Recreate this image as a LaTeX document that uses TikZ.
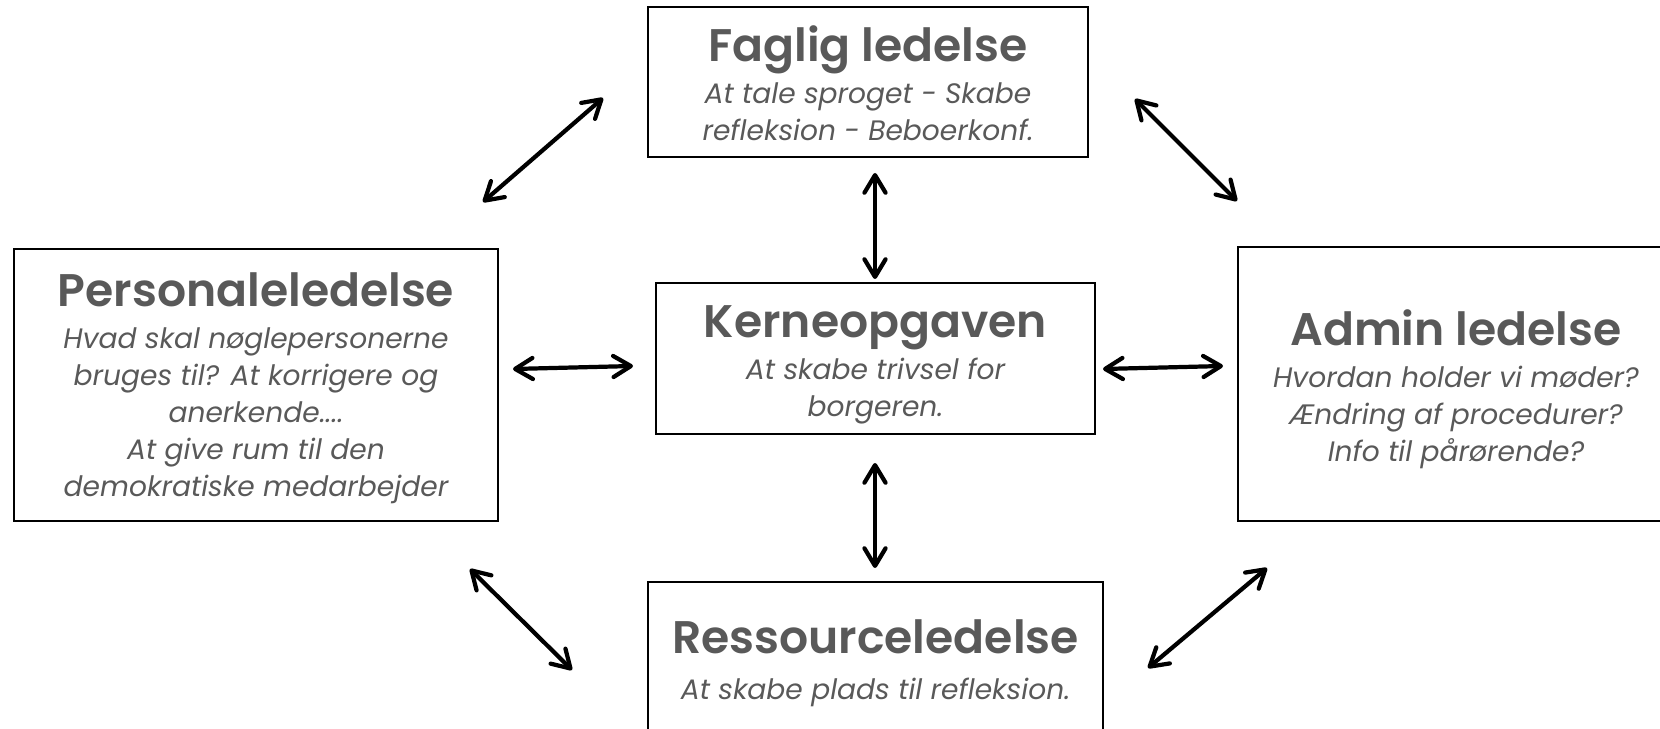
\documentclass[tikz,border=0pt]{standalone}
\usepackage{fontspec}
\setmainfont{Poppins}[BoldFont={Poppins SemiBold}]
\usetikzlibrary{arrows.meta}
\definecolor{textgray}{HTML}{595959}
% title line, with a strut that sets its height
\newcommand{\boxtitle}[2][0pt]{{\fontsize{26}{21}\selectfont\bfseries\upshape\rule{0pt}{#1}#2}}
\begin{document}
\begin{tikzpicture}[
      x=0.02cm,y=-0.02cm,
      >={Straight Barb[length=10pt,width=12pt,line cap=round,line join=round]},
      box/.style={
        draw,line width=1.1pt,inner sep=0pt,align=center,text=textgray,
        font=\fontsize{16}{21}\selectfont\itshape
      },
      link/.style={<->,line width=2.4pt,line cap=round},
    ]
    \useasboundingbox (0,0) rectangle (1660,729);
    \clip (0,0) rectangle (1660,729);
    \node[box,minimum width=8.8cm,minimum height=3cm] (faglig) at (868,82)
      {\boxtitle[21.5pt]{Faglig ledelse}\\[3pt] At tale sproget - Skabe\\ refleksion - Beboerkonf.};
    \node[box,minimum width=8.78cm,minimum height=3.02cm] (kerne) at (875.5,358.5)
      {\boxtitle[25.5pt]{Kerneopgaven}\\[3pt] At skabe trivsel for\\ borgeren.};
    \node[box,minimum width=9.68cm,minimum height=5.44cm] (personale) at (256,385)
      {\boxtitle[22.6pt]{Personaleledelse}\\[3pt] Hvad skal nøglepersonerne\\ bruges til? At korrigere og\\ anerkende....\\ At give rum til den\\ demokratiske medarbejder};
    \node[box,minimum width=8.72cm,minimum height=5.48cm] (admin) at (1456,384)
      {\boxtitle[26pt]{Admin ledelse}\\[3pt] Hvordan holder vi møder?\\ Ændring af procedurer?\\ Info til pårørende?};
    \node[box,minimum width=9.1cm,minimum height=3cm] (ressource) at (875.5,657)
      {\boxtitle[26pt]{Ressourceledelse}\\[5pt] At skabe plads til refleksion.};
    % arrow ends
    \coordinate (tlA) at (483,202);
    \coordinate (tlB) at (603,98);
    \coordinate (trA) at (1135,99);
    \coordinate (trB) at (1237,201);
    \coordinate (upA) at (875,173);
    \coordinate (upB) at (875,279);
    \coordinate (lfA) at (513,369);
    \coordinate (lfB) at (633,366);
    \coordinate (rtA) at (1103,369);
    \coordinate (rtB) at (1223,366);
    \coordinate (dnA) at (875,463);
    \coordinate (dnB) at (875,568);
    \coordinate (blA) at (470,569);
    \coordinate (blB) at (572,670);
    \coordinate (brA) at (1148,668);
    \coordinate (brB) at (1267,568);
    \draw[link] (tlA) -- (tlB);
    \draw[link] (trA) -- (trB);
    \draw[link] (upA) -- (upB);
    \draw[link] (lfA) -- (lfB);
    \draw[link] (rtA) -- (rtB);
    \draw[link] (dnA) -- (dnB);
    \draw[link] (blA) -- (blB);
    \draw[link] (brA) -- (brB);
  \end{tikzpicture}
\end{document}
